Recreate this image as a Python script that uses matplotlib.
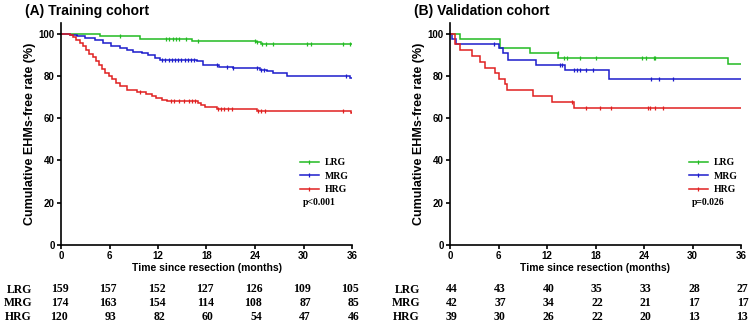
import numpy as np
import matplotlib
matplotlib.use("Agg")
import matplotlib.pyplot as plt
from matplotlib.lines import Line2D
import matplotlib.transforms as mtransforms

# Kaplan-Meier step data (time in months, survival in %)
train_lrg_t = [0, 4.8, 9.8, 16.2, 24.1, 24.7]
train_lrg_s = [100, 98.8, 97.6, 96.4, 95.8, 95.3]
train_mrg_t = [0, 1.1, 2.0, 3.0, 4.2, 5.2, 6.2, 7.3, 8.2, 8.9, 10.0, 10.8, 11.6, 12.2,
               16.8, 17.6, 19.5, 21.3, 24.6, 25.5, 26.2, 28.0, 35.8]
train_mrg_s = [100, 99.4, 98.8, 98.0, 97.0, 95.5, 94.2, 93.1, 92.4, 91.5, 90.6, 89.7, 88.6, 87.7,
               86.9, 85.3, 84.3, 83.7, 82.9, 82.2, 81.4, 80.1, 79.0]
train_hrg_t = [0, 1.1, 1.5, 1.9, 2.3, 2.7, 3.1, 3.5, 3.9, 4.3, 4.7, 5.1, 5.5, 5.9, 6.3, 6.8,
               7.3, 8.2, 9.4, 10.5, 11.2, 11.8, 12.5, 13.1, 16.9, 17.3, 17.8, 19.3, 24.2, 35.9]
train_hrg_s = [100, 99.2, 98.3, 97.0, 95.6, 94.0, 92.3, 90.5, 88.8, 87.0, 85.1, 83.4, 81.5, 80.0,
               78.5, 76.8, 75.0, 73.5, 72.6, 71.4, 70.5, 69.6, 68.8, 68.0, 67.0, 66.0, 65.2,
               64.3, 63.3, 62.3]

train_lrg_c = [7.3, 13.0, 13.4, 13.8, 14.2, 14.6, 15.5, 17.0, 24.0, 24.3, 24.9, 25.3, 26.2,
               30.4, 30.9, 34.9, 35.7]
train_mrg_c = [12.5, 12.9, 13.3, 13.7, 14.1, 14.5, 14.9, 15.3, 15.7, 16.1, 16.5, 19.3, 20.5,
               21.3, 24.3, 24.7, 25.1, 35.3]
train_hrg_c = [9.8, 13.6, 14.0, 14.6, 15.2, 15.8, 16.2, 16.6, 19.4, 19.8, 20.2, 20.6, 21.1,
               24.4, 24.8, 25.2, 34.9]

val_lrg_t = [0, 1.2, 6.2, 9.9, 13.4, 34.4]
val_lrg_s = [100, 97.6, 93.0, 90.7, 88.6, 85.5]
val_mrg_t = [0, 0.3, 0.8, 6.0, 6.6, 7.2, 10.7, 14.2, 19.7]
val_mrg_s = [100, 97.6, 95.3, 93.0, 91.0, 87.5, 85.2, 82.6, 78.7]
val_hrg_t = [0, 0.6, 1.2, 2.7, 3.7, 4.3, 5.6, 6.0, 6.8, 7.0, 10.3, 12.6, 15.3]
val_hrg_s = [100, 94.9, 92.1, 89.4, 86.7, 83.9, 81.2, 78.4, 76.0, 73.1, 70.5, 67.8, 64.9]

val_lrg_c = [13.3, 14.1, 14.5, 16.1, 18.1, 23.8, 24.3, 25.2, 25.4]
val_mrg_c = [5.5, 13.6, 13.9, 15.3, 15.7, 16.1, 16.8, 17.7, 24.9, 25.9, 27.6]
val_hrg_c = [15.1, 16.8, 18.6, 19.9, 24.5, 24.7, 25.4, 26.3]

# numbers at risk
risk_times = [0, 6, 12, 18, 24, 30, 36]
train_risk = {"LRG": [159, 157, 152, 127, 126, 109, 105],
              "MRG": [174, 163, 154, 114, 108, 87, 85],
              "HRG": [120, 93, 82, 60, 54, 47, 46]}
val_risk = {"LRG": [44, 43, 40, 35, 33, 28, 27],
            "MRG": [42, 37, 34, 22, 21, 17, 17],
            "HRG": [39, 30, 26, 22, 20, 13, 13]}

colors = {"LRG": "#22bb22", "MRG": "#1c1ccc", "HRG": "#e02020"}
sans = ["Liberation Sans", "DejaVu Sans"]
serif = ["Liberation Serif", "DejaVu Serif"]


def km_plot(ax, t, s, cens, color):
    t = np.asarray(t, float)
    s = np.asarray(s, float)
    tt = np.append(t, 36)
    ss = np.append(s, s[-1])
    ax.step(tt, ss, where="post", color=color, lw=1.1, solid_joinstyle="miter")
    c = np.asarray(cens, float)
    idx = np.searchsorted(t, c, side="right") - 1
    ax.plot(c, s[idx], ls="none", marker="|", ms=3.5, mew=0.9, color=color)


def panel(ax, curves, risk, pval, title, title_x, label_x):
    for name, (t, s, c) in curves.items():
        km_plot(ax, t, s, c, colors[name])
    ax.set_xlim(0, 36)
    ax.set_ylim(0, 105)
    ax.set_xticks(risk_times)
    ax.set_yticks([0, 20, 40, 60, 80, 100])
    for sp in ["top", "right"]:
        ax.spines[sp].set_visible(False)
    for sp in ["left", "bottom"]:
        ax.spines[sp].set_linewidth(1.2)
    ax.tick_params(length=3, width=1.2, pad=1.5, labelsize=7)
    for lab in ax.get_xticklabels() + ax.get_yticklabels():
        lab.set_fontweight("bold")
        lab.set_family(sans)
    ax.set_xlabel("Time since resection (months)", fontsize=7.5, fontweight="bold",
                  family=sans, labelpad=1)
    ax.set_ylabel("Cumulative EHMs-free rate (%)", fontsize=9, fontweight="bold",
                  family=sans, labelpad=2)

    handles = [Line2D([], [], color=colors[n], lw=1.1, marker="|", ms=3, mew=0.9)
               for n in curves]
    ax.legend(handles, list(curves.keys()), loc="upper left", bbox_to_anchor=(0.79, 0.43),
              frameon=False, handlelength=2.0, handletextpad=0.6, labelspacing=0.45,
              prop={"family": serif, "weight": "bold", "size": 7})
    ax.text(0.83, 0.19, pval, transform=ax.transAxes, family=serif, fontweight="bold",
            fontsize=7, va="center", ha="left")

    trans = mtransforms.blended_transform_factory(ax.transData, ax.transAxes)
    for i, (name, vals) in enumerate(risk.items()):
        y = -0.2 - 0.062 * i
        for x, v in zip(risk_times, vals):
            ax.text(x + 0.9, y, str(v), transform=trans, ha="right", va="center",
                    family=serif, fontweight="bold", fontsize=8.5, clip_on=False)
        fig.text(label_x, 1 - (290 + 13.5 * i) / 328, name, ha="right", va="center",
                 family=serif, fontweight="bold", fontsize=8.5)
    fig.text(title_x, 0.965, title, ha="left", va="center", family=sans,
             fontweight="bold", fontsize=10)


fig = plt.figure(figsize=(7.54, 3.28), dpi=100)
ax1 = fig.add_axes([61 / 754, 83 / 328, 291 / 754, 222 / 328])
ax2 = fig.add_axes([450 / 754, 83 / 328, 291 / 754, 222 / 328])

panel(ax1,
      {"LRG": (train_lrg_t, train_lrg_s, train_lrg_c),
       "MRG": (train_mrg_t, train_mrg_s, train_mrg_c),
       "HRG": (train_hrg_t, train_hrg_s, train_hrg_c)},
      train_risk, "p<0.001", "(A) Training cohort", 25 / 754, 32 / 754)
panel(ax2,
      {"LRG": (val_lrg_t, val_lrg_s, val_lrg_c),
       "MRG": (val_mrg_t, val_mrg_s, val_mrg_c),
       "HRG": (val_hrg_t, val_hrg_s, val_hrg_c)},
      val_risk, "p=0.026", "(B) Validation cohort", 414 / 754, 420 / 754)

fig.savefig("out.png", dpi=100)
